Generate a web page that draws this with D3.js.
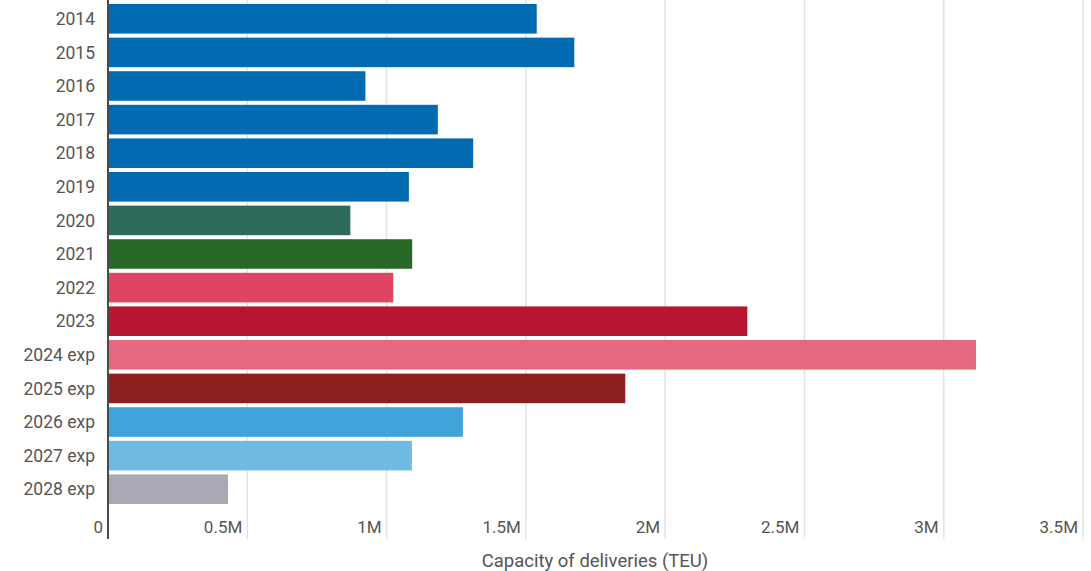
<!DOCTYPE html>
<html>
<head>
<meta charset="utf-8">
<script src="https://cdn.jsdelivr.net/npm/d3@7"></script>
<style>
  html, body { margin: 0; padding: 0; background: #fff; }
  svg { display: block; font-family: Roboto, "Noto Sans", sans-serif; }
</style>
</head>
<body>
<svg id="chart" width="1091" height="571"></svg>
<script>
const categories = ["2014","2015","2016","2017","2018","2019","2020","2021","2022","2023","2024 exp","2025 exp","2026 exp","2027 exp","2028 exp"];
const values = [1539000,1674000,924000,1184000,1311000,1080000,870000,1092000,1024000,2295000,3116000,1857000,1274000,1091000,431000];
const colors = ["#006bb1","#006bb1","#006bb1","#006bb1","#006bb1","#006bb1","#2e6a5a","#2a6828","#df4562","#b81532","#e6687f","#8e1f1f","#40a4da","#70bbe2","#a9a9b5"];
const xTicks = [0,500000,1000000,1500000,2000000,2500000,3000000,3500000];
const xTickLabels = ["0","0.5M","1M","1.5M","2M","2.5M","3M","3.5M"];
const xTitle = "Capacity of deliveries (TEU)";

const svg = d3.select("#chart");
const x = d3.scaleLinear().domain([0, 3500000]).range([108, 1083]);
const y = d3.scaleBand().domain(categories).range([2, 506]).paddingInner(0.12).paddingOuter(0.06);

// gridlines
svg.append("g").selectAll("line").data(xTicks.slice(1)).join("line")
  .attr("x1", d => x(d)).attr("x2", d => x(d))
  .attr("y1", 0).attr("y2", 539)
  .attr("stroke", "#e3e3e3").attr("stroke-width", 1.5);

// bars
svg.append("g").selectAll("rect").data(categories).join("rect")
  .attr("x", x(0))
  .attr("y", d => y(d))
  .attr("width", (d, i) => x(values[i]) - x(0))
  .attr("height", y.bandwidth())
  .attr("fill", (d, i) => colors[i]);

// y axis line
svg.append("line")
  .attr("x1", x(0)).attr("x2", x(0))
  .attr("y1", 0).attr("y2", 539)
  .attr("stroke", "#4a4a4a").attr("stroke-width", 2);

// y labels
svg.append("g").selectAll("text").data(categories).join("text")
  .attr("x", 95)
  .attr("y", d => y(d) + y.bandwidth() / 2)
  .attr("dy", "0.35em")
  .attr("text-anchor", "end")
  .attr("font-size", 17.5)
  .attr("fill", "#555")
  .text(d => d);

// x tick labels
svg.append("g").selectAll("text").data(xTicks).join("text")
  .attr("x", d => x(d) - 5)
  .attr("y", 527)
  .attr("dy", "0.35em")
  .attr("text-anchor", "end")
  .attr("font-size", 17)
  .attr("fill", "#555")
  .text((d, i) => xTickLabels[i]);

// x title
svg.append("text")
  .attr("x", 595)
  .attr("y", 567)
  .attr("text-anchor", "middle")
  .attr("font-size", 18.5)
  .attr("fill", "#555")
  .text(xTitle);
</script>
</body>
</html>
